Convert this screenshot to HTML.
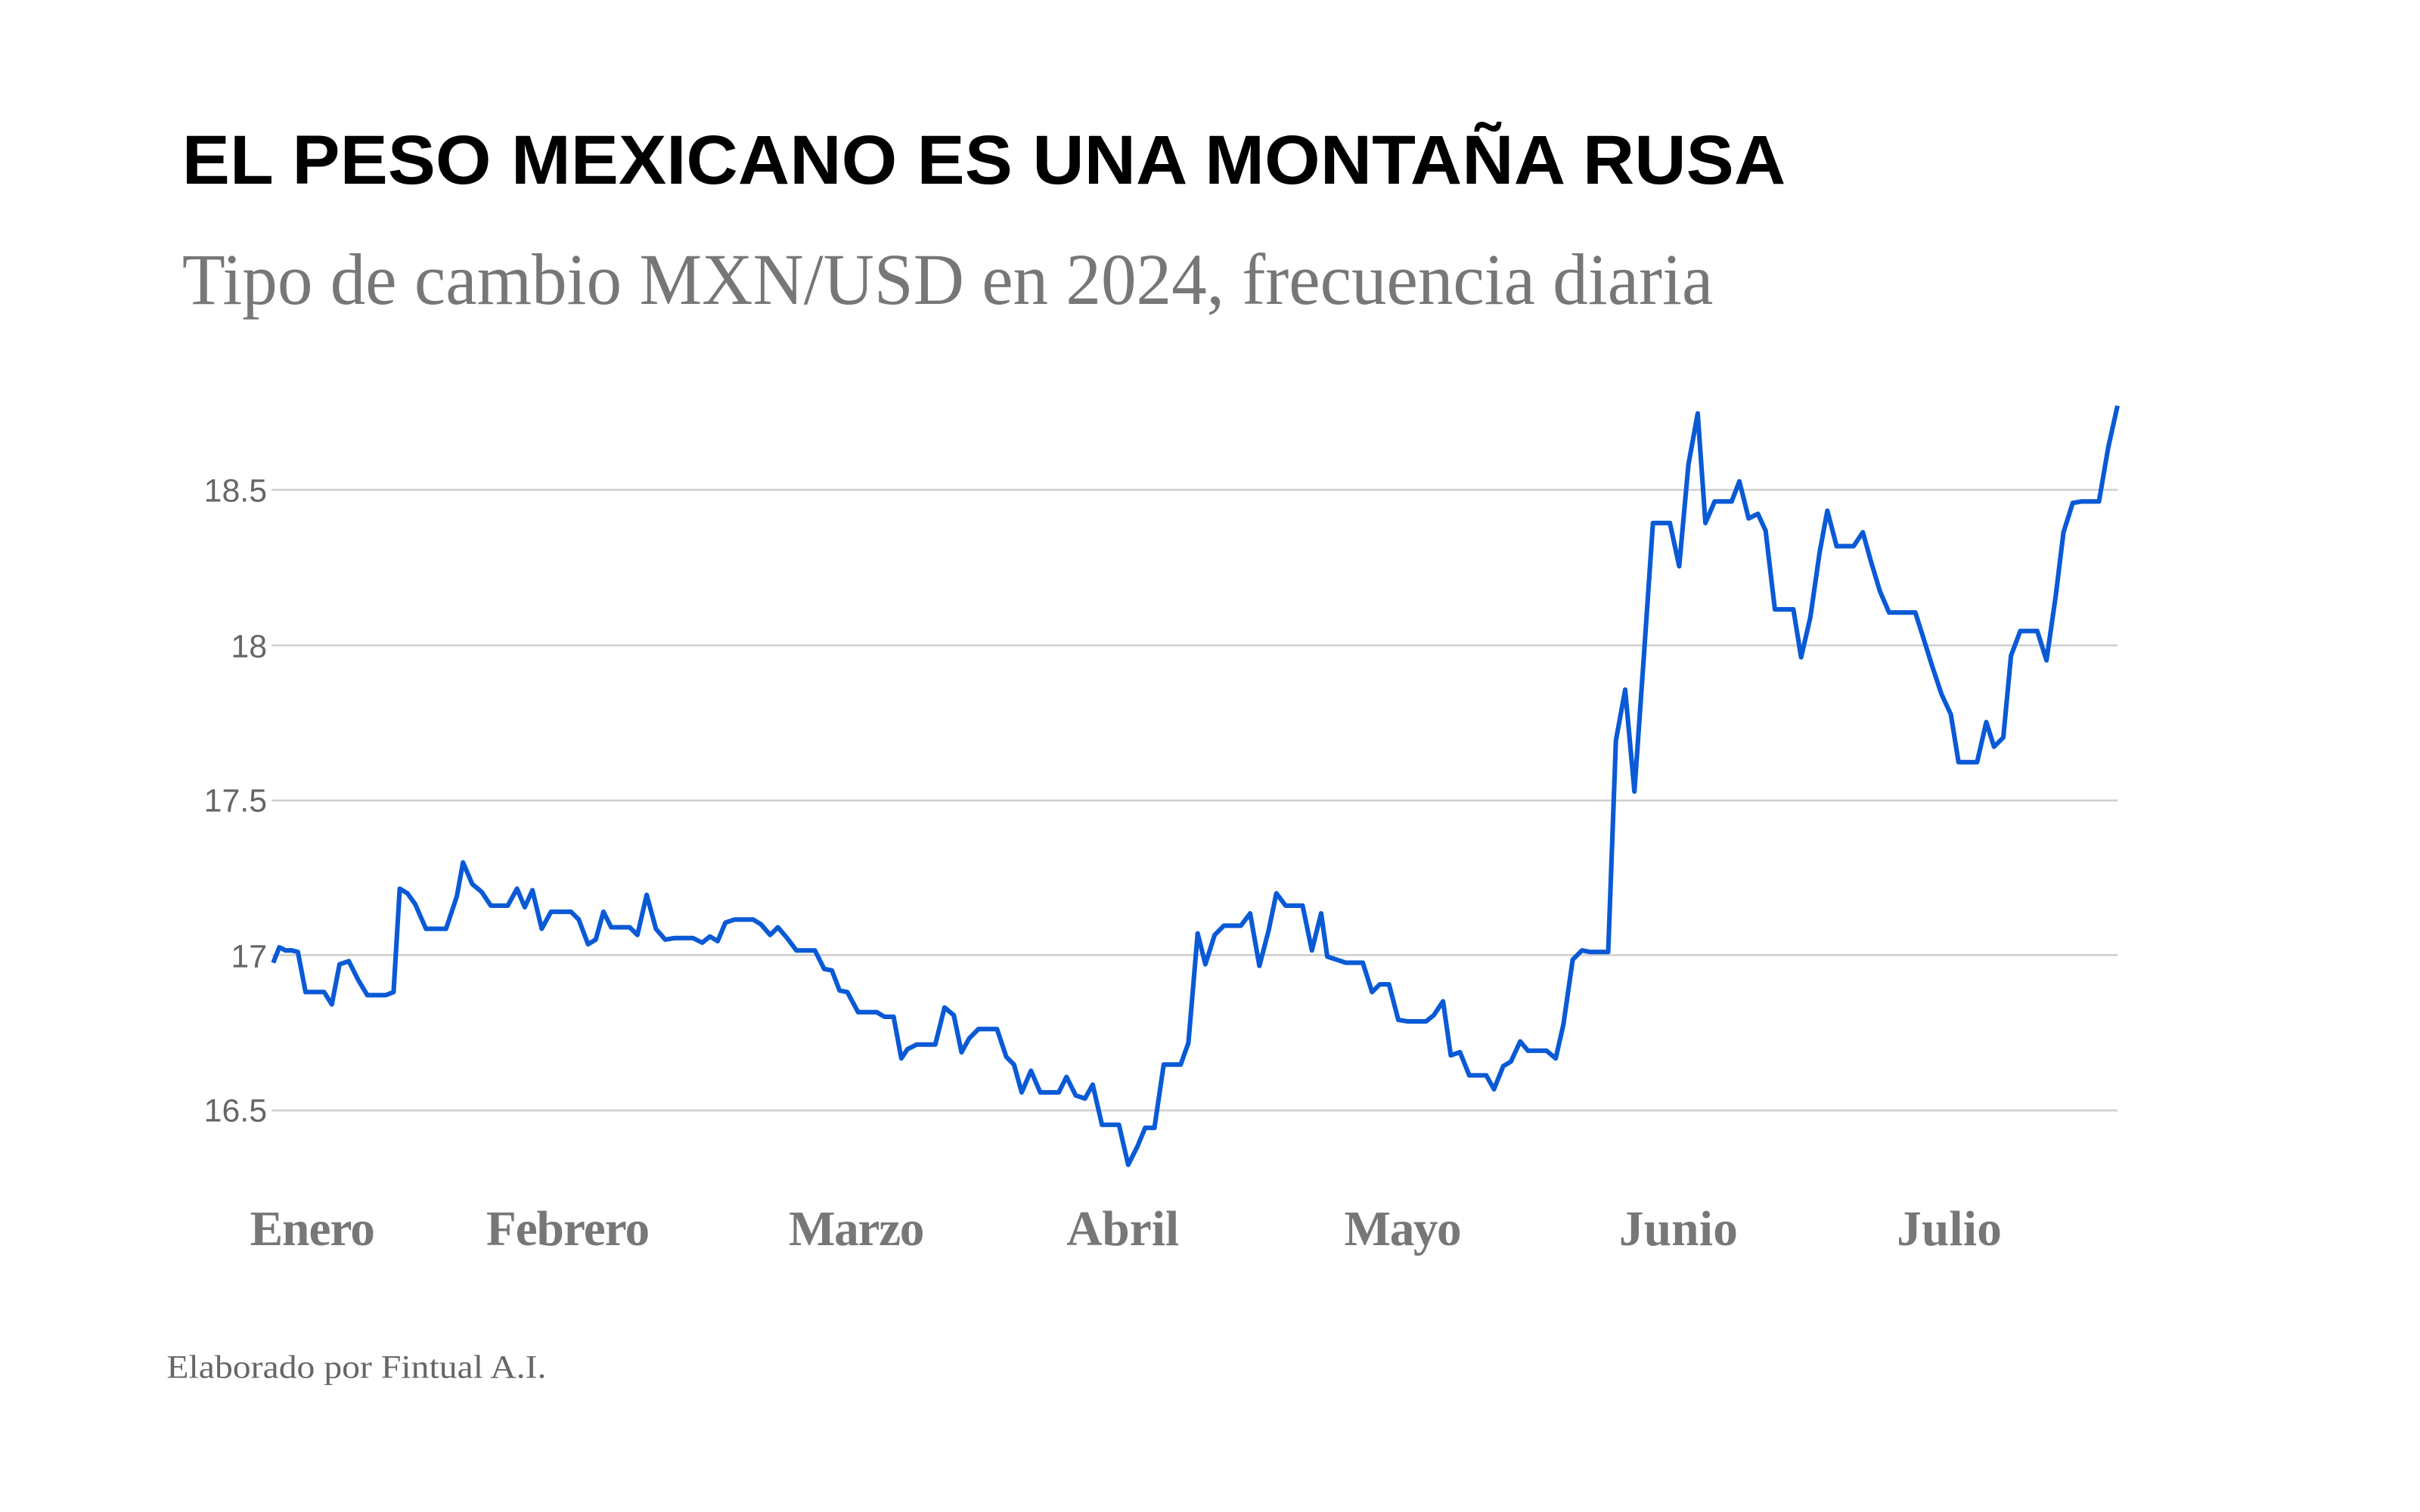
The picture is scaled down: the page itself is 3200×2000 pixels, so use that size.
<!DOCTYPE html>
<html><head><meta charset="utf-8"><style>html,body{margin:0;padding:0;background:#fff}svg{display:block}</style></head>
<body>
<svg width="3200" height="2000" viewBox="0 0 1568 980" xmlns="http://www.w3.org/2000/svg">
<rect width="1568" height="980" fill="#fff"/>
<text x="118" y="119" font-family="Liberation Sans, sans-serif" font-weight="bold" font-size="45" fill="#000" textLength="1039" lengthAdjust="spacingAndGlyphs">EL PESO MEXICANO ES UNA MONTAÑA RUSA</text>
<text x="118" y="197" font-family="Liberation Serif, serif" font-size="47" fill="#777" textLength="992" lengthAdjust="spacingAndGlyphs">Tipo de cambio MXN/USD en 2024, frecuencia diaria</text>
<g stroke="#d0d0d0" stroke-width="1.3">
<line x1="176" x2="1372" y1="317.5" y2="317.5"/>
<line x1="176" x2="1372" y1="418.3" y2="418.3"/>
<line x1="176" x2="1372" y1="518.8" y2="518.8"/>
<line x1="176" x2="1372" y1="619" y2="619"/>
<line x1="176" x2="1372" y1="719.7" y2="719.7"/>
</g>
<g font-family="Liberation Sans, sans-serif" font-size="21" fill="#666" text-anchor="end">
<text x="173" y="325">18.5</text>
<text x="173" y="426">18</text>
<text x="173" y="526">17.5</text>
<text x="173" y="627">17</text>
<text x="173" y="727">16.5</text>
</g>
<g font-family="Liberation Serif, serif" font-weight="bold" font-size="32" fill="#777" lengthAdjust="spacingAndGlyphs">
<text x="162" y="807" textLength="81">Enero</text>
<text x="315" y="807" textLength="106">Febrero</text>
<text x="511" y="807" textLength="88">Marzo</text>
<text x="691" y="807" textLength="73">Abril</text>
<text x="871" y="807" textLength="76">Mayo</text>
<text x="1049" y="807" textLength="77">Junio</text>
<text x="1229" y="807" textLength="68">Julio</text>
</g>
<text x="108" y="893" font-family="Liberation Serif, serif" font-size="21" fill="#666" textLength="246" lengthAdjust="spacingAndGlyphs">Elaborado por Fintual A.I.</text>
<polyline fill="none" stroke="#0a5ad6" stroke-width="3" stroke-linejoin="round" points="177,624 181,614 185,616 189,616 193,617 198,643 203,643 210,643 215,651 220,625 226,623 232,635 238,645 244,645 250,645 255,643 259,576 264,579 269,586 276,602 282,602 289,602 296,581 300,559 306,573 312,578 318,587 324,587 329,587 335,576 340,588 345,577 351,602 357,591 364,591 370,591 375,596 381,612 386,609 391,591 396,601 402,601 408,601 413,606 419,580 425,602 431,609 437,608 443,608 449,608 455,611 460,607 465,610 470,598 476,596 482,596 488,596 493,599 499,606 504,601 510,608 516,616 522,616 528,616 534,628 539,629 544,642 549,643 556,656 562,656 568,656 573,659 579,659 584,686 588,680 594,677 600,677 606,677 612,653 618,658 623,682 628,673 634,667 640,667 646,667 652,685 657,690 662,708 668,694 674,708 680,708 686,708 691,698 697,710 703,712 708,703 714,729 719,729 725,729 731,755 737,743 742,731 748,731 754,690 759,690 765,690 770,676 776,605 781,625 787,606 793,600 798,600 804,600 810,592 816,626 822,603 827,579 833,587 838,587 844,587 850,616 856,592 860,620 866,622 872,624 877,624 883,624 889,643 894,638 900,638 906,661 912,662 918,662 924,662 929,658 935,649 940,684 946,682 952,697 957,697 963,697 968,706 974,691 979,688 985,675 990,681 996,681 1002,681 1008,686 1013,664 1019,622 1025,616 1030,617 1036,617 1042,617 1047,480 1053,447 1059,513 1065,427 1071,339 1076,339 1082,339 1088,367 1094,301 1100,268 1105,339 1111,325 1116,325 1122,325 1127,312 1133,336 1139,333 1144,344 1150,395 1156,395 1162,395 1167,426 1173,400 1179,358 1184,331 1190,354 1195,354 1201,354 1207,345 1212,363 1218,383 1224,397 1230,397 1235,397 1241,397 1247,416 1252,432 1258,450 1264,463 1269,494 1275,494 1281,494 1287,468 1292,484 1298,478 1303,425 1309,409 1315,409 1320,409 1326,428 1332,386 1337,345 1343,326 1349,325 1355,325 1360,325 1366,290 1372,263"/>
</svg>
</body></html>
